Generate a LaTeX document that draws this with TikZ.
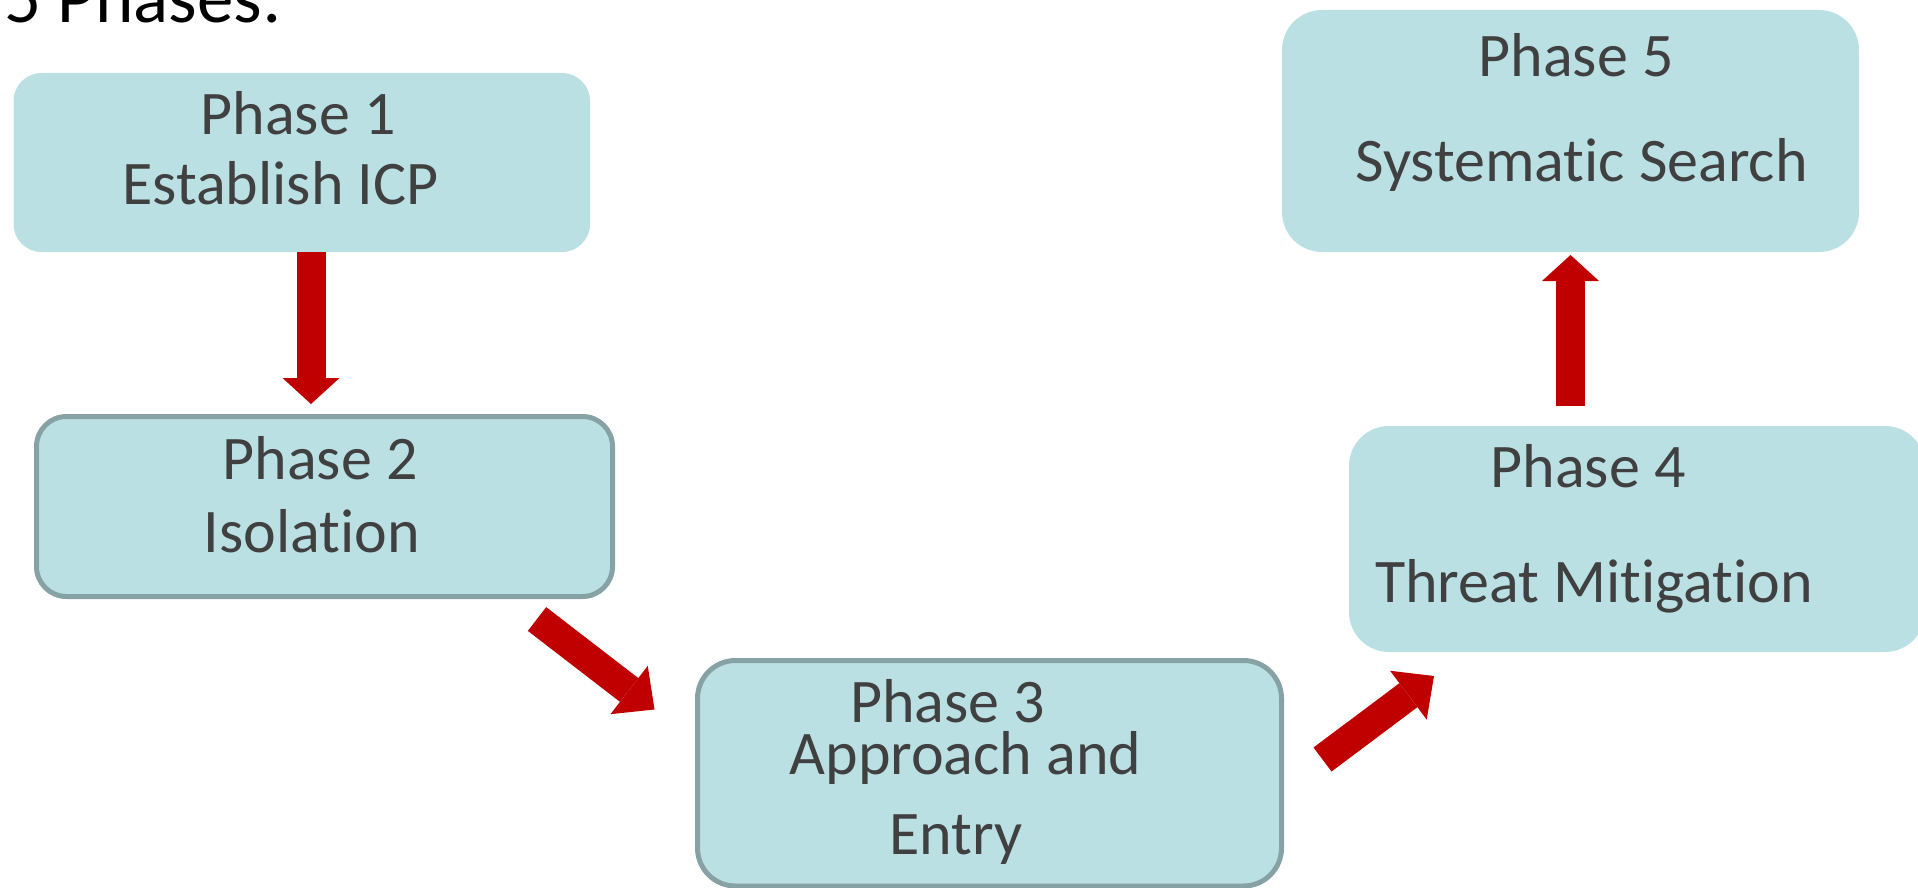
\documentclass[tikz,border=0pt]{standalone}
\usepackage{fontspec}
\setmainfont{Carlito}[Ligatures=NoCommon,RawFeature={-liga;-dlig;-clig}]
\usetikzlibrary{arrows.meta}
\definecolor{boxfill}{HTML}{BBE0E3}
\definecolor{boxline}{HTML}{87A2A5}
\definecolor{txtgray}{HTML}{404040}
\definecolor{arrowred}{HTML}{C00000}
\tikzset{
  box/.style={rectangle, fill=boxfill, inner sep=0pt, outer sep=0pt, anchor=north west},
  boxborder/.style={box, draw=boxline, line width=5pt},
  lbl/.style={inner sep=0pt, outer sep=0pt, anchor=base, text=txtgray, font=\fontsize{62pt}{62pt}\selectfont},
  redarrow/.style={draw=arrowred, line width=#1, line cap=butt},
  vtip/.style={-{Triangle[length=26pt,width=57pt,line width=0pt,color=arrowred]}},
  dtip/.style={-{Triangle[length=32pt,width=61pt,line width=0pt,color=arrowred]}}
}
\begin{document}
\begin{tikzpicture}[x=1pt,y=-1pt]
\useasboundingbox (0,0) rectangle (1918,888);
% title
\node[inner sep=0pt, anchor=base west, font=\fontsize{73pt}{73pt}\selectfont, text=black] (title) at (4,23) {5 Phases:};
% boxes
\node[box, rounded corners=28pt, minimum width=576.5pt, minimum height=179pt] (p1) at (13.5,73) {};
\node[boxborder, rounded corners=30pt, minimum width=576pt, minimum height=180pt] (p2) at (36.5,416.5) {};
\node[boxborder, rounded corners=38pt, minimum width=584pt, minimum height=225.5pt] (p3) at (697.5,660.5) {};
\node[box, rounded corners=40pt, minimum width=576pt, minimum height=226pt] (p4) at (1349,426) {};
\node[box, rounded corners=40pt, minimum width=577pt, minimum height=242pt] (p5) at (1282,10) {};
% texts
\node[lbl] (t1a) at (298,135) {Phase 1};
\node[lbl] (t1b) at (280.5,204) {Establish ICP};
\node[lbl] (t2a) at (320,479) {Phase 2};
\node[lbl] (t2b) at (312,552) {Isolation};
\node[lbl] (t3a) at (947.5,722) {Phase 3};
\node[lbl] (t3b) at (965.5,774) {Approach and};
\node[lbl] (t3c) at (956,854) {Entry};
\node[lbl] (t4a) at (1588,487) {Phase 4};
\node[lbl] (t4b) at (1594,602) {Threat Mitigation};
\node[lbl] (t5a) at (1576,77) {Phase 5};
\node[lbl] (t5b) at (1581.5,181) {Systematic Search};
% arrow end points
\coordinate (a1s) at (311,252);
\coordinate (a1e) at (311,404);
\coordinate (a2s) at (537,619);
\coordinate (a2e) at (654.5,709.5);
\coordinate (a3s) at (1322.5,759.5);
\coordinate (a3e) at (1434,676);
\coordinate (a4s) at (1570.5,406);
\coordinate (a4e) at (1570.5,255);
% arrows
\draw[redarrow=29pt, vtip] (a1s) -- (a1e);
\draw[redarrow=30pt, dtip] (a2s) -- (a2e);
\draw[redarrow=30pt, dtip] (a3s) -- (a3e);
\draw[redarrow=29pt, vtip] (a4s) -- (a4e);
\end{tikzpicture}
\end{document}
